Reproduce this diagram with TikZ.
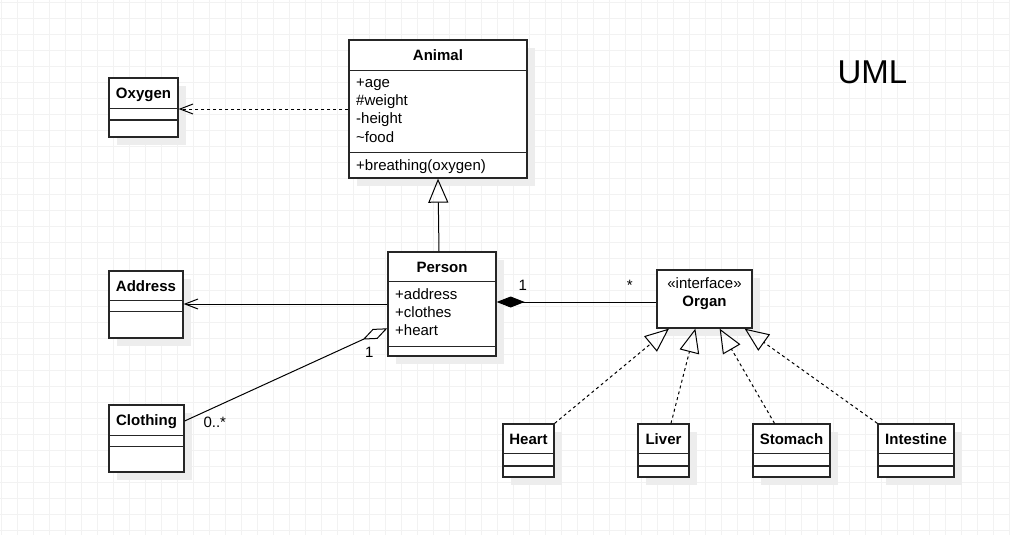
\documentclass[tikz,border=0pt]{standalone}
\usepackage{fontspec}
\setmainfont{Liberation Sans}
\usetikzlibrary{arrows.meta,shadows}
\tikzset{
  gridline/.style={black!5, line width=0.7pt},
  classbox/.style={draw=black!85, line width=1.3pt, fill=white, inner sep=0pt,
    drop shadow={shadow xshift=8pt, shadow yshift=-8pt, fill=black!7, opacity=1}},
  classname/.style={anchor=base, inner sep=0pt, font=\bfseries\fontsize{15}{18}\selectfont},
  member/.style={anchor=base west, inner sep=0pt, font=\fontsize{15}{18}\selectfont},
  mult/.style={anchor=base, inner sep=0pt, font=\fontsize{15}{18}\selectfont},
  divider/.style={draw=black!85, line width=1.3pt},
  link/.style={line width=1pt},
  dep/.style={link, dash pattern=on 3pt off 3pt, -{Straight Barb[length=13pt,width=10pt]}},
  assoc/.style={link, -{Straight Barb[length=13pt,width=10pt]}},
  inherit/.style={link, -{Triangle[open,length=24pt,width=20pt]}},
  realize/.style={inherit, dash pattern=on 3pt off 3pt},
  compose/.style={link, {Diamond[length=28pt,width=11pt]}-},
  aggregate/.style={link, {Diamond[open,length=27pt,width=11pt]}-},
}
\begin{document}
\begin{tikzpicture}[x=1pt,y=-1pt]
  \useasboundingbox (0,0) rectangle (1010,535);
  \fill[white] (0,0) rectangle (1010,535);
  % background grid
  \foreach \gx in {1,17,...,1009} \draw[gridline] (\gx,0) -- (\gx,535);
  \foreach \gy in {2.7,18.7,...,531} \draw[gridline] (0,\gy) -- (1010,\gy);

  % classes
  \node[classbox, minimum width=178pt, minimum height=138pt] (animal) at (438,109) {};
  \node[classname] (animalT) at ([yshift=-20.8pt]animal.north) {Animal};
  \draw[divider] ([yshift=-31pt]animal.north west) -- ([yshift=-31pt]animal.north east);
  \draw[divider] ([yshift=26pt]animal.south west) -- ([yshift=26pt]animal.south east);
  \node[member] (age) at (356,88) {+age};
  \node[member] (weight) at (356,106) {\#weight};
  \node[member] (height) at (356,124) {-height};
  \node[member] (food) at (356,142) {\textasciitilde food};
  \node[member] (breathing) at (356,170) {+breathing(oxygen)};

  \node[classbox, minimum width=69pt, minimum height=59pt] (oxygen) at (143.5,107.5) {};
  \node[classname] (oxygenT) at ([yshift=-20.8pt]oxygen.north) {Oxygen};
  \draw[divider] ([yshift=-31pt]oxygen.north west) -- ([yshift=-31pt]oxygen.north east);
  \draw[divider] ([yshift=-42.7pt]oxygen.north west) -- ([yshift=-42.7pt]oxygen.north east);

  \node[classbox, minimum width=108pt, minimum height=104pt] (person) at (442,304) {};
  \node[classname] (personT) at ([yshift=-20.8pt]person.north) {Person};
  \draw[divider] ([yshift=-30pt]person.north west) -- ([yshift=-30pt]person.north east);
  \draw[divider] ([yshift=10pt]person.south west) -- ([yshift=10pt]person.south east);
  \node[member] (address) at (395,299.3) {+address};
  \node[member] (clothes) at (395,317.3) {+clothes};
  \node[member] (heartattr) at (395,335.3) {+heart};

  \node[classbox, minimum width=74pt, minimum height=67pt] (addressC) at (146,304.5) {};
  \node[classname] (addressT) at ([yshift=-20.8pt]addressC.north) {Address};
  \draw[divider] ([yshift=-30pt]addressC.north west) -- ([yshift=-30pt]addressC.north east);
  \draw[divider] ([yshift=-41pt]addressC.north west) -- ([yshift=-41pt]addressC.north east);

  \node[classbox, minimum width=75pt, minimum height=67pt] (clothing) at (146.5,438.5) {};
  \node[classname] (clothingT) at ([yshift=-20.8pt]clothing.north) {Clothing};
  \draw[divider] ([yshift=-31pt]clothing.north west) -- ([yshift=-31pt]clothing.north east);
  \draw[divider] ([yshift=-42pt]clothing.north west) -- ([yshift=-42pt]clothing.north east);

  \node[classbox, minimum width=95pt, minimum height=58pt] (organ) at (704.5,299) {};
  \node[mult] (organS) at ([yshift=-19.3pt]organ.north) {«interface»};
  \node[classname] (organT) at ([yshift=-36.7pt]organ.north) {Organ};

  \node[classbox, minimum width=51pt, minimum height=53pt] (heart) at (528.5,450.5) {};
  \node[classname] (heartT) at ([yshift=-20.8pt]heart.north) {Heart};
  \draw[divider] ([yshift=-30pt]heart.north west) -- ([yshift=-30pt]heart.north east);
  \draw[divider] ([yshift=-42.7pt]heart.north west) -- ([yshift=-42.7pt]heart.north east);

  \node[classbox, minimum width=51pt, minimum height=53pt] (liver) at (663.5,450.5) {};
  \node[classname] (liverT) at ([yshift=-20.8pt]liver.north) {Liver};
  \draw[divider] ([yshift=-30pt]liver.north west) -- ([yshift=-30pt]liver.north east);
  \draw[divider] ([yshift=-42.7pt]liver.north west) -- ([yshift=-42.7pt]liver.north east);

  \node[classbox, minimum width=77pt, minimum height=53pt] (stomach) at (791.5,450.5) {};
  \node[classname] (stomachT) at ([yshift=-20.8pt]stomach.north) {Stomach};
  \draw[divider] ([yshift=-30pt]stomach.north west) -- ([yshift=-30pt]stomach.north east);
  \draw[divider] ([yshift=-42.7pt]stomach.north west) -- ([yshift=-42.7pt]stomach.north east);

  \node[classbox, minimum width=76pt, minimum height=53pt] (intestine) at (916,450.5) {};
  \node[classname] (intestineT) at ([yshift=-20.8pt]intestine.north) {Intestine};
  \draw[divider] ([yshift=-30pt]intestine.north west) -- ([yshift=-30pt]intestine.north east);
  \draw[divider] ([yshift=-42.7pt]intestine.north west) -- ([yshift=-42.7pt]intestine.north east);

  % relations
  \draw[dep] (animal.west) -- (animal.west -| oxygen.east);
  \draw[inherit] ([xshift=-3pt]person.north) -- (animal.south);
  \draw[assoc] (person.west) -- (person.west -| addressC.east);
  \draw[aggregate] ([yshift=-24.3pt]person.west) -- ([yshift=17.5pt]clothing.east);
  \draw[compose] ([yshift=2pt]person.east) -- ([yshift=2pt]person.east -| organ.west);
  \draw[realize] (heart.north east) -- ([xshift=12.6pt]organ.south west);
  \draw[realize] ([xshift=7.5pt]liver.north) -- ([xshift=39pt]organ.south west);
  \draw[realize] ([xshift=-17pt]stomach.north) -- ([xshift=63.3pt]organ.south west);
  \draw[realize] (intestine.north west) -- ([xshift=88.3pt]organ.south west);

  % multiplicities
  \node[mult] (compOne) at (522.7,290.7) {1};
  \node[mult] (compMany) at (629.7,290.7) {*};
  \node[mult] (aggOne) at (369.3,357.3) {1};
  \node[member] (aggMany) at (203.3,427.3) {0..*};

  \node[anchor=base west, inner sep=0pt, font=\fontsize{33}{40}\selectfont] (umlTitle) at (837.3,83.3) {UML};
\end{tikzpicture}
\end{document}
